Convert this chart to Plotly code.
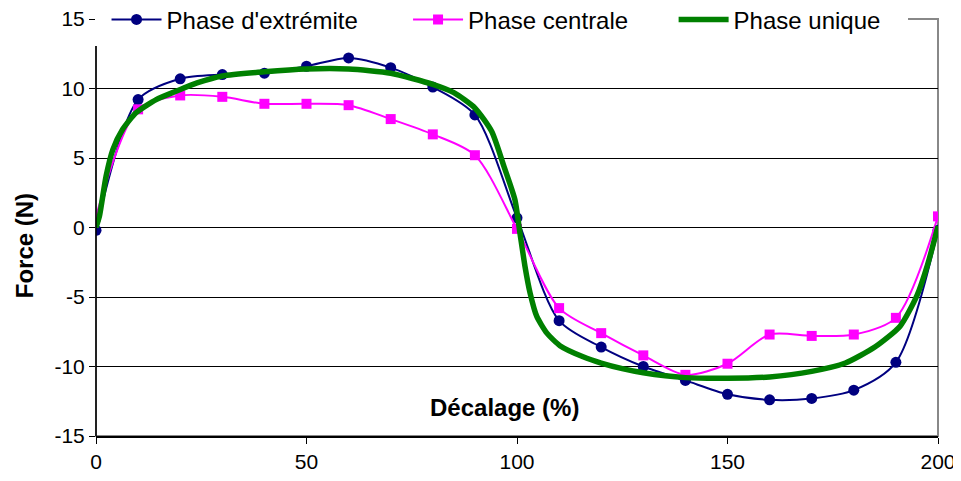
import plotly.graph_objects as go

# décalage (%) for the two measured series
decalage = [0, 10, 20, 30, 40, 50, 60, 70, 80, 90, 100,
            110, 120, 130, 140, 150, 160, 170, 180, 190, 200]

force_extremite = [-0.2, 9.2, 10.7, 11.0, 11.1, 11.6, 12.2, 11.5, 10.1, 8.1, 0.7,
                   -6.7, -8.6, -10.0, -11.0, -12.0, -12.4, -12.3, -11.7, -9.7, -0.2]
force_centrale = [0.8, 8.5, 9.5, 9.4, 8.9, 8.9, 8.8, 7.8, 6.7, 5.2, -0.1,
                  -5.8, -7.6, -9.2, -10.6, -9.8, -7.7, -7.8, -7.7, -6.5, 0.8]

# single-phase curve (no markers, read densely off the picture)
decalage_unique = [0, 0.8, 2.4, 4, 6.3, 9.5, 14.3, 19, 24, 30, 40, 50, 60, 70, 80, 85,
                   90, 94, 97, 99.5, 100.7, 101.9, 103.1, 104.7, 107.1, 110.2, 115.7,
                   120, 125, 130, 140, 150, 160, 170, 178, 185, 191, 195, 197.5, 200]
force_unique = [0.0, 0.8, 3.7, 5.6, 7.05, 8.25, 9.2, 9.8, 10.4, 10.9, 11.2, 11.4, 11.4,
                11.1, 10.3, 9.7, 8.6, 6.9, 4.3, 2.0, -0.4, -2.8, -4.7, -6.4, -7.6, -8.5,
                -9.3, -9.75, -10.15, -10.45, -10.8, -10.85, -10.75, -10.35, -9.75, -8.6,
                -7.1, -4.9, -2.7, 0.1]

x_ticks = [0, 50, 100, 150, 200]
y_ticks = [-15, -10, -5, 0, 5, 10, 15]
y_ticktext = ["-15", "-10", "-5", "0", "5", "10", "15"]  # plain hyphen like the original

FONT = "Liberation Sans, Arial, sans-serif"

fig = go.Figure()
fig.add_trace(go.Scatter(
    x=decalage, y=force_extremite, name="Phase d'extrémite", legend="legend",
    mode="lines+markers", line=dict(color="#000080", width=2, shape="spline", smoothing=0.8),
    marker=dict(symbol="circle", size=11, color="#000080"),
))
fig.add_trace(go.Scatter(
    x=decalage, y=force_centrale, name="Phase centrale", legend="legend2",
    mode="lines+markers", line=dict(color="#FF00FF", width=2, shape="spline", smoothing=0.8),
    marker=dict(symbol="square", size=10, color="#FF00FF"),
))
fig.add_trace(go.Scatter(
    x=decalage_unique, y=force_unique, name="Phase unique", legend="legend3",
    mode="lines", line=dict(color="#008000", width=5.5, shape="spline", smoothing=0.6),
))

leg = dict(orientation="h", yanchor="middle", y=0.998, xanchor="left", visible=True,
           bgcolor="rgba(0,0,0,0)", borderwidth=0, itemwidth=50,
           font=dict(family=FONT, size=24, color="#000"))

# the page body adds an 8px offset, so the figure is 8px smaller than the window
fig.update_layout(
    width=953, height=473,
    margin=dict(l=88, r=23, t=11, b=45, autoexpand=False),
    showlegend=True,
    paper_bgcolor="white", plot_bgcolor="white",
    font=dict(family=FONT, size=21, color="#000"),
    legend=dict(leg, x=0.0125),
    legend2=dict(leg, x=0.3706),
    legend3=dict(leg, x=0.686),
    shapes=[
        # grey plot-area frame (right/top)
        dict(type="rect", xref="paper", yref="paper", x0=0, x1=1, y0=0, y1=1,
             line=dict(color="#888", width=2), layer="between"),
        # white legend box covering the top of the plot area
        dict(type="rect", xref="paper", yref="paper", x0=-0.003, x1=0.9644, y0=0.935, y1=1.06,
             line=dict(width=0), fillcolor="white", layer="between"),
        # left axis line, interrupted by the legend box
        dict(type="line", xref="paper", yref="paper", x0=0, x1=0, y0=0, y1=0.935,
             line=dict(color="#000", width=1.5), layer="above"),
    ],
    annotations=[
        dict(text="<b>Décalage (%)</b>", x=97, y=-12.95, xref="x", yref="y",
             xanchor="center", yanchor="middle",
             showarrow=False, font=dict(family=FONT, size=24, color="#000")),
        dict(text="<b>Force (N)</b>", x=-0.0855, y=0.455, xref="paper", yref="paper",
             xanchor="center", yanchor="middle",
             textangle=-90, showarrow=False, font=dict(family=FONT, size=24, color="#000")),
    ],
)

fig.update_xaxes(range=[0, 200], tickvals=x_ticks, showgrid=False,
                 zeroline=False, showline=True, linecolor="#000", linewidth=1.5,
                 ticks="outside", ticklen=6, tickcolor="#000", ticklabeloverflow="allow")
fig.update_yaxes(range=[-15, 15], tickvals=y_ticks, ticktext=y_ticktext,
                 showgrid=True, gridcolor="#000", gridwidth=1,
                 zeroline=True, zerolinecolor="#000", zerolinewidth=1,
                 showline=False, ticks="outside", ticklen=6, tickcolor="#000",
                 ticklabeloverflow="allow")

fig.write_html("out.html")
